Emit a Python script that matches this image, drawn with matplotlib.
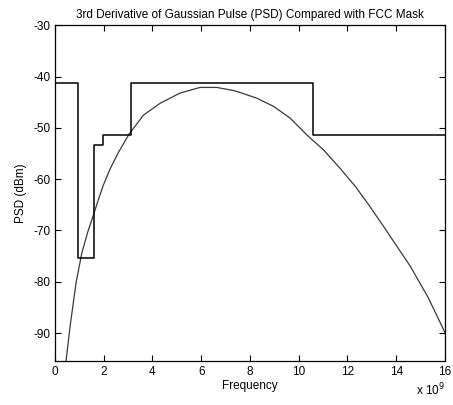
import matplotlib
matplotlib.use('Agg')
import matplotlib.pyplot as plt

# FCC indoor mask (GHz edges, dBm levels)
mask_edges = [0, 0.96, 1.61, 1.99, 3.1, 10.6, 16]
mask_levels = [-41.3, -75.3, -53.3, -51.3, -41.3, -51.3]

# PSD of 3rd derivative gaussian pulse
freq_ghz = [0.44, 0.62, 0.86, 1.10, 1.35, 1.61, 1.78, 1.98, 2.26, 2.6, 3.04, 3.63, 4.31,
            5.13, 5.95, 6.64, 7.32, 7.6, 8.28, 8.97, 9.65, 10.34, 11.02, 11.7,
            12.32, 12.9, 13.48, 14.0, 14.58, 15.3, 16.0]
psd_dbm = [-96.0, -88.7, -80.3, -74.4, -70.2, -66.5, -64.0, -61.2, -58.0, -54.8, -51.2, -47.5, -45.2,
           -43.2, -42.1, -42.1, -42.7, -43.1, -44.2, -45.8, -48.1, -51.4, -54.3, -57.9,
           -61.4, -65.2, -69.2, -72.9, -77.0, -83.0, -89.9]

plt.rcParams['font.family'] = ['Liberation Sans', 'DejaVu Sans']
plt.rcParams['font.size'] = 8.5
plt.rcParams['axes.unicode_minus'] = False

fig = plt.figure(figsize=(4.53, 4.05), dpi=100)
ax = fig.add_axes([0.1214, 0.1094, 0.8609, 0.8279])

ax.plot(freq_ghz, psd_dbm, color='#3a3a3a', lw=0.9)
ax.step(mask_edges, mask_levels + [mask_levels[-1]], where='post', color='black', lw=1.1)

ax.set_xlim(0, 16)
ax.set_ylim(-95.4, -30)
ax.set_xticks(range(0, 17, 2))
ax.set_yticks(range(-90, -29, 10))
ax.tick_params(direction='in', top=True, right=True, length=4, width=0.8)
for s in ax.spines.values():
    s.set_linewidth(0.9)

ax.set_title('3rd Derivative of Gaussian Pulse (PSD) Compared with FCC Mask', fontsize=8.5, pad=5)
ax.set_xlabel('Frequency', labelpad=2)
ax.set_ylabel('PSD (dBm)', labelpad=4)
ax.text(1.0, -0.062, r'x 10$^{9}$', transform=ax.transAxes, ha='right', va='top')

fig.savefig('out.png', dpi=100)
